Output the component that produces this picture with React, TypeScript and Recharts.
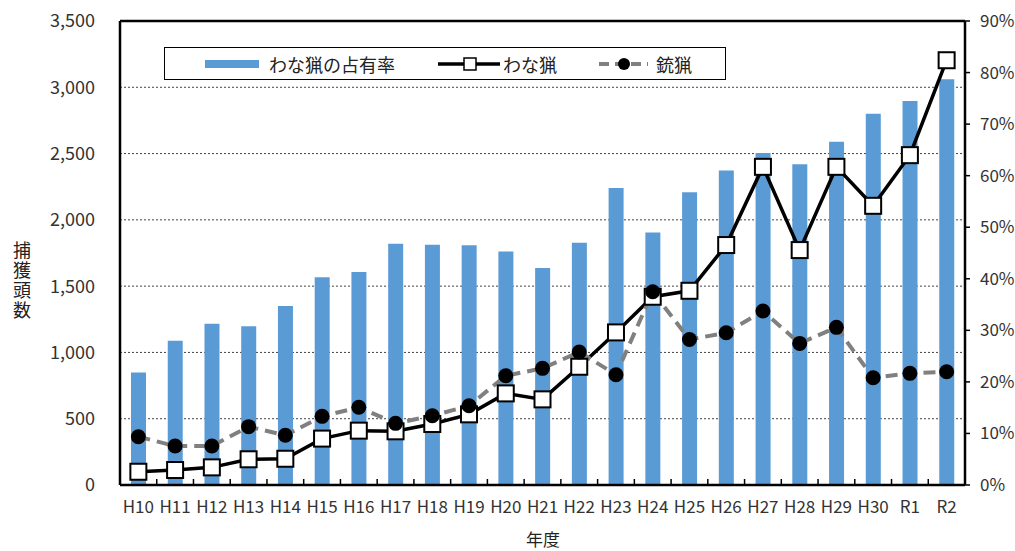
import { ComposedChart, Bar, Line, XAxis, YAxis, CartesianGrid, ReferenceLine } from "recharts";

const years = ["H10", "H11", "H12", "H13", "H14", "H15", "H16", "H17", "H18", "H19", "H20", "H21", "H22", "H23", "H24", "H25", "H26", "H27", "H28", "H29", "H30", "R1", "R2"];
// わな猟の占有率 (%)
const wanaShare = [21.8, 28.0, 31.3, 30.8, 34.7, 40.3, 41.3, 46.8, 46.6, 46.5, 45.3, 42.1, 47.0, 57.6, 49.0, 56.8, 61.0, 64.4, 62.2, 66.6, 72.0, 74.5, 78.7];
// わな猟 捕獲頭数
const wanaCount = [100, 113, 133, 194, 198, 350, 410, 405, 460, 533, 691, 646, 892, 1151, 1420, 1465, 1810, 2400, 1772, 2400, 2106, 2488, 3204];
// 銃猟 捕獲頭数
const juuCount = [364, 294, 294, 440, 375, 518, 586, 465, 522, 598, 824, 880, 1003, 832, 1458, 1098, 1148, 1312, 1068, 1189, 809, 842, 854];
const leftTicks = [0, 500, 1000, 1500, 2000, 2500, 3000, 3500];
const rightTicks = [0, 10, 20, 30, 40, 50, 60, 70, 80, 90];

const data = years.map((year, i) => ({ year, share: wanaShare[i], wana: wanaCount[i], juu: juuCount[i] }));

const W = 1015;
const H = 551;
const PLOT_LEFT = 120;
const PLOT_RIGHT = 965;
const BAND = (PLOT_RIGHT - PLOT_LEFT) / years.length;
const FONT = "'Noto Sans CJK JP', 'Noto Sans', sans-serif";
const BLUE = "#5B9BD5";

function XTick(props: any) {
  const { x, y, payload, index } = props;
  return (
    <g>
      <line x1={x - BAND / 2} x2={x - BAND / 2} y1={y} y2={y - 6} stroke="#000" strokeWidth={1.5} />
      {index === years.length - 1 && (
        <line x1={x + BAND / 2} x2={x + BAND / 2} y1={y} y2={y - 6} stroke="#000" strokeWidth={1.5} />
      )}
      <text x={x} y={y + 28} textAnchor="middle" fontSize={17} fill="#333" fontFamily={FONT}>
        {payload.value}
      </text>
    </g>
  );
}

function SquareDot(p: any) {
  return (
    <rect key={`sq-${p.index}`} x={p.cx - 8} y={p.cy - 8} width={16} height={16} fill="#fff" stroke="#000" strokeWidth={2} />
  );
}

export default function App() {
  const tickStyle = { fontSize: 18, fill: "#333", fontFamily: FONT };
  return (
    <div style={{ position: "relative", width: W, height: H, background: "#fff", fontFamily: FONT }}>
      <style>{"body{margin:0}"}</style>
      <ComposedChart width={W} height={H} data={data} margin={{ top: 21, right: 0, bottom: 0, left: 0 }}>
        <CartesianGrid yAxisId="left" vertical={false} stroke="#444" strokeDasharray="2 2" />
        <XAxis
          dataKey="year"
          height={66}
          interval={0}
          tickLine={false}
          tickSize={0}
          tickMargin={0}
          axisLine={{ stroke: "#000", strokeWidth: 2.5 }}
          tick={<XTick />}
        />
        <YAxis
          yAxisId="left"
          orientation="left"
          width={120}
          domain={[0, 3500]}
          ticks={leftTicks}
          interval={0}
          tickLine={false}
          tickSize={0}
          tickMargin={25}
          axisLine={{ stroke: "#000", strokeWidth: 2.5 }}
          tick={tickStyle}
          tickFormatter={(v: number) => v.toLocaleString("en-US")}
        />
        <YAxis
          yAxisId="right"
          orientation="right"
          width={50}
          domain={[0, 90]}
          ticks={rightTicks}
          interval={0}
          tickLine={{ stroke: "#000", strokeWidth: 1.5 }}
          tickSize={5}
          tickMargin={10}
          axisLine={{ stroke: "#000", strokeWidth: 2.5 }}
          tick={{ ...tickStyle, fontSize: 17 }}
          tickFormatter={(v: number) => `${v}%`}
        />
        <ReferenceLine yAxisId="left" y={3500} stroke="#000" strokeWidth={2.5} />
        <Bar yAxisId="right" dataKey="share" name="わな猟の占有率" fill={BLUE} barSize={15} isAnimationActive={false} />
        <Line
          yAxisId="left"
          dataKey="wana"
          name="わな猟"
          stroke="#000"
          strokeWidth={3.5}
          dot={SquareDot}
          activeDot={false}
          isAnimationActive={false}
        />
        <Line
          yAxisId="left"
          dataKey="juu"
          name="銃猟"
          stroke="#808080"
          strokeWidth={4}
          strokeDasharray="12 7"
          dot={{ r: 7.5, fill: "#000", stroke: "#000", strokeWidth: 0, strokeDasharray: "0" }}
          activeDot={false}
          isAnimationActive={false}
        />
      </ComposedChart>

      {/* legend */}
      <div
        style={{
          position: "absolute",
          left: 164,
          top: 47,
          width: 562,
          height: 33,
          border: "1.5px solid #000",
          boxSizing: "border-box",
          background: "#fff",
        }}
      />
      <svg style={{ position: "absolute", left: 0, top: 0 }} width={W} height={H} pointerEvents="none">
        <rect x={205} y={60} width={54} height={8} fill={BLUE} />
        <text x={269} y={64} fontSize={18} fill="#222" fontFamily={FONT} dominantBaseline="central">わな猟の占有率</text>
        <line x1={438} x2={500} y1={64} y2={64} stroke="#000" strokeWidth={3.5} />
        <rect x={464} y={58} width={12} height={12} fill="#fff" stroke="#000" strokeWidth={1.5} />
        <text x={503} y={64} fontSize={18} fill="#222" fontFamily={FONT} dominantBaseline="central">わな猟</text>
        <line x1={599} x2={648} y1={64} y2={64} stroke="#808080" strokeWidth={4} strokeDasharray="10 6" />
        <circle cx={624} cy={64} r={6} fill="#000" />
        <text x={656} y={64} fontSize={18} fill="#222" fontFamily={FONT} dominantBaseline="central">銃猟</text>

        <text
          x={22}
          y={241}
          fontSize={18}
          fill="#222"
          fontFamily={FONT}
          style={{ writingMode: "vertical-rl", letterSpacing: 2 }}
        >
          捕獲頭数
        </text>
        <text x={543} y={538} fontSize={17} fill="#222" fontFamily={FONT} textAnchor="middle" dominantBaseline="central">年度</text>
      </svg>
    </div>
  );
}
